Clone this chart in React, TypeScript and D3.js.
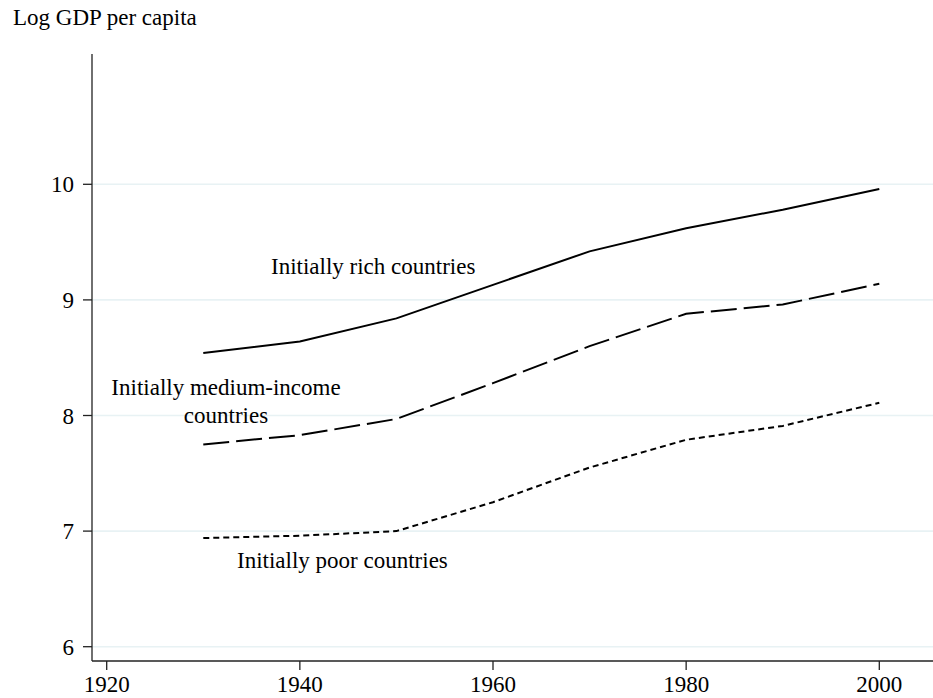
import React from "react";
import * as d3 from "d3";

const years = [1930, 1940, 1950, 1960, 1970, 1980, 1990, 2000];
const rich = [8.54, 8.64, 8.84, 9.13, 9.42, 9.62, 9.78, 9.96];
const medium = [7.75, 7.83, 7.97, 8.28, 8.6, 8.88, 8.96, 9.14];
const poor = [6.94, 6.96, 7.0, 7.25, 7.55, 7.79, 7.91, 8.11];

const xTicks = [1920, 1940, 1960, 1980, 2000];
const yTicks = [6, 7, 8, 9, 10];

const W = 933;
const H = 698;
const FONT = "'Liberation Serif', 'Times New Roman', serif";

const App: React.FC = () => {
  const x = d3.scaleLinear().domain([1920, 2000]).range([106.7, 879.3]);
  const y = d3.scaleLinear().domain([6, 10]).range([646.7, 184.3]);

  const axisX = 92;
  const axisY = 661;
  const axisTop = 54;

  const line = d3
    .line<number>()
    .x((_, i) => x(years[i]))
    .y((d) => y(d));

  const series = [
    { values: rich, dash: "none" },
    { values: medium, dash: "26,7" },
    { values: poor, dash: "6,4" },
  ];

  return (
    <svg
      width={W}
      height={H}
      style={{ position: "absolute", left: 0, top: 0, background: "#fff" }}
      fontFamily={FONT}
      fontSize={23}
    >
      <text x={13} y={25} fill="#000">
        Log GDP per capita
      </text>

      {/* grid */}
      {yTicks.map((t) => (
        <line
          key={"g" + t}
          x1={axisX}
          x2={W}
          y1={y(t)}
          y2={y(t)}
          stroke="#e8f2f4"
          strokeWidth={1.6}
        />
      ))}

      {/* y axis */}
      <line x1={axisX} x2={axisX} y1={axisTop} y2={axisY} stroke="#222" strokeWidth={1.3} />
      {yTicks.map((t) => (
        <g key={"y" + t}>
          <line x1={83} x2={axisX} y1={y(t)} y2={y(t)} stroke="#222" strokeWidth={1.3} />
          <text x={74} y={y(t)} dy="0.35em" textAnchor="end" fill="#000">
            {t}
          </text>
        </g>
      ))}

      {/* x axis */}
      <line x1={axisX} x2={W} y1={axisY} y2={axisY} stroke="#222" strokeWidth={1.3} />
      {xTicks.map((t) => (
        <g key={"x" + t}>
          <line x1={x(t)} x2={x(t)} y1={axisY} y2={670} stroke="#222" strokeWidth={1.3} />
          <text x={x(t)} y={692} textAnchor="middle" fill="#000">
            {t}
          </text>
        </g>
      ))}

      {series.map((s, i) => (
        <path
          key={i}
          d={line(s.values) ?? ""}
          fill="none"
          stroke="#000"
          strokeWidth={2}
          strokeDasharray={s.dash}
        />
      ))}

      <text x={271} y={274} fill="#000">
        Initially rich countries
      </text>
      <text x={226} y={395} textAnchor="middle" fill="#000">
        Initially medium-income
      </text>
      <text x={226} y={423} textAnchor="middle" fill="#000">
        countries
      </text>
      <text x={237} y={568} fill="#000">
        Initially poor countries
      </text>
    </svg>
  );
};

export default App;
